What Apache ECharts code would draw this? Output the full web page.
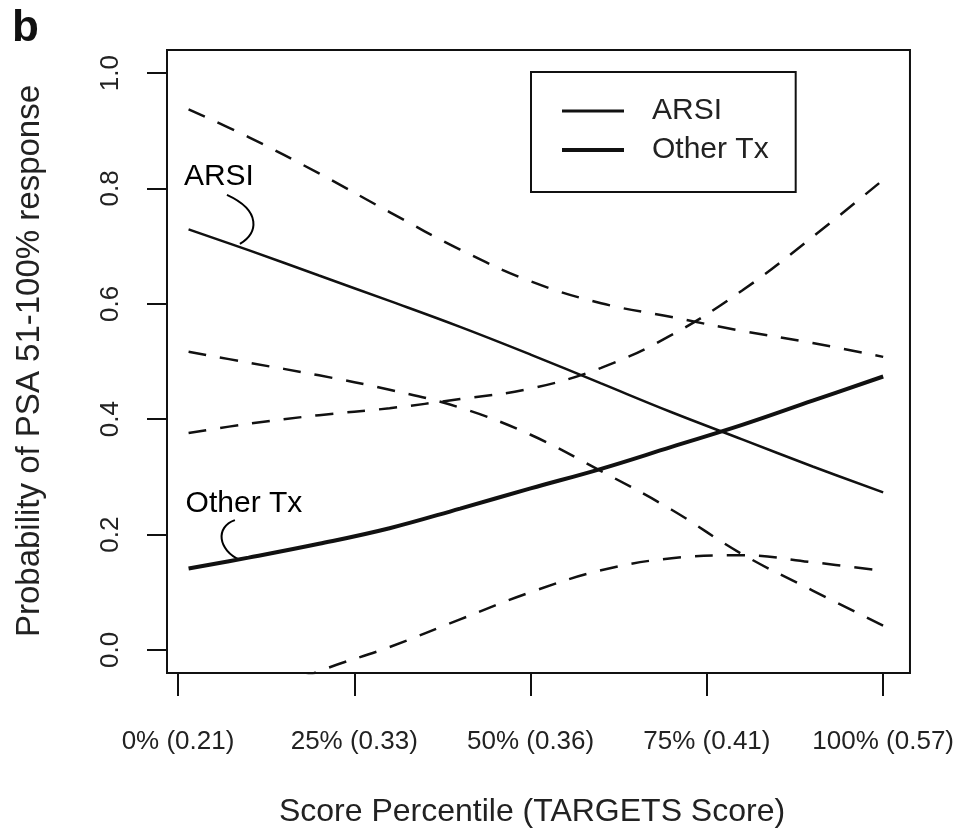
<!DOCTYPE html>
<html><head><meta charset="utf-8">
<script src="https://cdn.jsdelivr.net/npm/echarts@6/dist/echarts.min.js"></script>
<style>html,body{margin:0;padding:0;background:#fff}#c{width:957px;height:836px}</style>
</head><body><div id="c"></div>
<script>
// ---- data ----
const xPct = [1.5, 10, 20, 30, 40, 50, 60, 70, 80, 90, 100];
const arsiFit   = [0.729, 0.693, 0.649, 0.605, 0.560, 0.512, 0.462, 0.412, 0.365, 0.318, 0.273];
const otherFit  = [0.141, 0.160, 0.184, 0.211, 0.245, 0.280, 0.314, 0.352, 0.390, 0.432, 0.474];
const arsiUpper = [0.937, 0.889, 0.826, 0.759, 0.694, 0.639, 0.601, 0.577, 0.553, 0.532, 0.508];
const arsiLower = [0.517, 0.498, 0.476, 0.451, 0.420, 0.373, 0.310, 0.243, 0.166, 0.103, 0.042];
const otherUpper = [0.376, 0.392, 0.407, 0.419, 0.435, 0.453, 0.489, 0.546, 0.623, 0.716, 0.815];
const otherLower = [-0.16, -0.09, -0.037, 0.005, 0.053, 0.100, 0.138, 0.159, 0.164, 0.152, 0.137];
const xTickValues = [0, 25, 50, 75, 100];
const xTickLabels = ['0% (0.21)', '25% (0.33)', '50% (0.36)', '75% (0.41)', '100% (0.57)'];
const yTickValues = [0, 0.2, 0.4, 0.6, 0.8, 1.0];
const legendNames = ['ARSI', 'Other Tx'];
const xTitle = 'Score Percentile (TARGETS Score)';
const yTitle = 'Probability of PSA 51-100% response';
const panelTag = 'b';

const FONT = '"Liberation Sans", Arial, Helvetica, sans-serif';
const INK = '#111';
function pairs(ys) { return xPct.map((x, i) => [x, ys[i]]); }
function lineSeries(name, ys, width, dashed) {
  return {
    name: name, type: 'line', data: pairs(ys), smooth: 0.4, symbol: 'none', showSymbol: false,
    silent: true, clip: true,
    lineStyle: { color: INK, width: width, type: dashed ? [18, 14] : 'solid' },
    itemStyle: { color: INK }
  };
}

const chart = echarts.init(document.getElementById('c'), null, { renderer: 'canvas' });
chart.setOption({
  animation: false,
  backgroundColor: '#fff',
  grid: { left: 167, top: 50, right: 46, bottom: 163, show: true, borderColor: INK, borderWidth: 2, backgroundColor: 'transparent' },
  xAxis: {
    type: 'value', min: -1.56, max: 103.8,
    axisLine: { show: false, onZero: false }, splitLine: { show: false },
    axisTick: { show: true, inside: false, customValues: xTickValues, length: 23, lineStyle: { color: INK, width: 2 } },
    axisLabel: {
      customValues: xTickValues, margin: 56, fontSize: 26, color: '#222', fontFamily: FONT,
      formatter: v => xTickLabels[xTickValues.indexOf(v)]
    }
  },
  yAxis: {
    type: 'value', min: -0.04, max: 1.04,
    axisLine: { show: false, onZero: false }, splitLine: { show: false },
    axisTick: { show: true, inside: false, customValues: yTickValues, length: 20, lineStyle: { color: INK, width: 2 } },
    axisLabel: {
      customValues: yTickValues, rotate: 90, margin: 43, fontSize: 26, color: '#222', fontFamily: FONT,
      formatter: v => v.toFixed(1)
    }
  },
  legend: {
    orient: 'vertical', left: 531, top: 72,
    padding: [24, 27, 27, 29], itemWidth: 62, itemHeight: 30, itemGap: 9,
    borderColor: INK, borderWidth: 2, backgroundColor: '#fff',
    textStyle: { fontSize: 30, lineHeight: 30, color: '#222', fontFamily: FONT, padding: [0, 0, 0, 23] },
    itemStyle: { opacity: 0 },
    selectedMode: false,
    data: [
      { name: legendNames[0], lineStyle: { width: 3, color: INK } },
      { name: legendNames[1], lineStyle: { width: 4, color: INK } }
    ]
  },
  series: [
    lineSeries(legendNames[0], arsiFit, 2.5, false),
    lineSeries(legendNames[1], otherFit, 4, false),
    lineSeries('ARSI upper', arsiUpper, 2.5, true),
    lineSeries('ARSI lower', arsiLower, 2.5, true),
    lineSeries('Other Tx upper', otherUpper, 2.5, true),
    lineSeries('Other Tx lower', otherLower, 2.5, true)
  ]
});

// ---- annotations placed in data space ----
function px(p) { return chart.convertToPixel({ gridIndex: 0 }, p); }
const arsiNote = { label: [5.8, 0.820], a: [6.94, 0.789], c1: [11.9, 0.761], c2: [11.33, 0.723], b: [8.78, 0.704] };
const otherNote = { label: [9.35, 0.254], a: [8.07, 0.225], c1: [5.24, 0.213], c2: [5.67, 0.173], b: [8.78, 0.156] };
function noteGraphics(n, text) {
  const L = px(n.label), A = px(n.a), C1 = px(n.c1), C2 = px(n.c2), B = px(n.b);
  return [
    { type: 'text', x: L[0], y: L[1], style: { text: text, fontSize: 30, fontFamily: FONT, fill: '#000', align: 'center', verticalAlign: 'middle' } },
    { type: 'bezierCurve', shape: { x1: A[0], y1: A[1], cpx1: C1[0], cpy1: C1[1], cpx2: C2[0], cpy2: C2[1], x2: B[0], y2: B[1] },
      style: { stroke: '#000', lineWidth: 2, fill: null } }
  ];
}
chart.setOption({
  graphic: [
    { type: 'text', x: 12, y: 29, style: { text: panelTag, fontSize: 44, fontWeight: 'bold', fontFamily: FONT, fill: '#111', verticalAlign: 'middle' } },
    { type: 'text', x: 532, y: 812, style: { text: xTitle, fontSize: 32, fontFamily: FONT, fill: '#222', align: 'center', verticalAlign: 'middle' } },
    { type: 'text', x: 30, y: 361, rotation: Math.PI / 2, style: { text: yTitle, fontSize: 33, fontFamily: FONT, fill: '#222', align: 'center', verticalAlign: 'middle' } }
  ].concat(noteGraphics(arsiNote, 'ARSI'), noteGraphics(otherNote, 'Other Tx'))
});
</script></body></html>
